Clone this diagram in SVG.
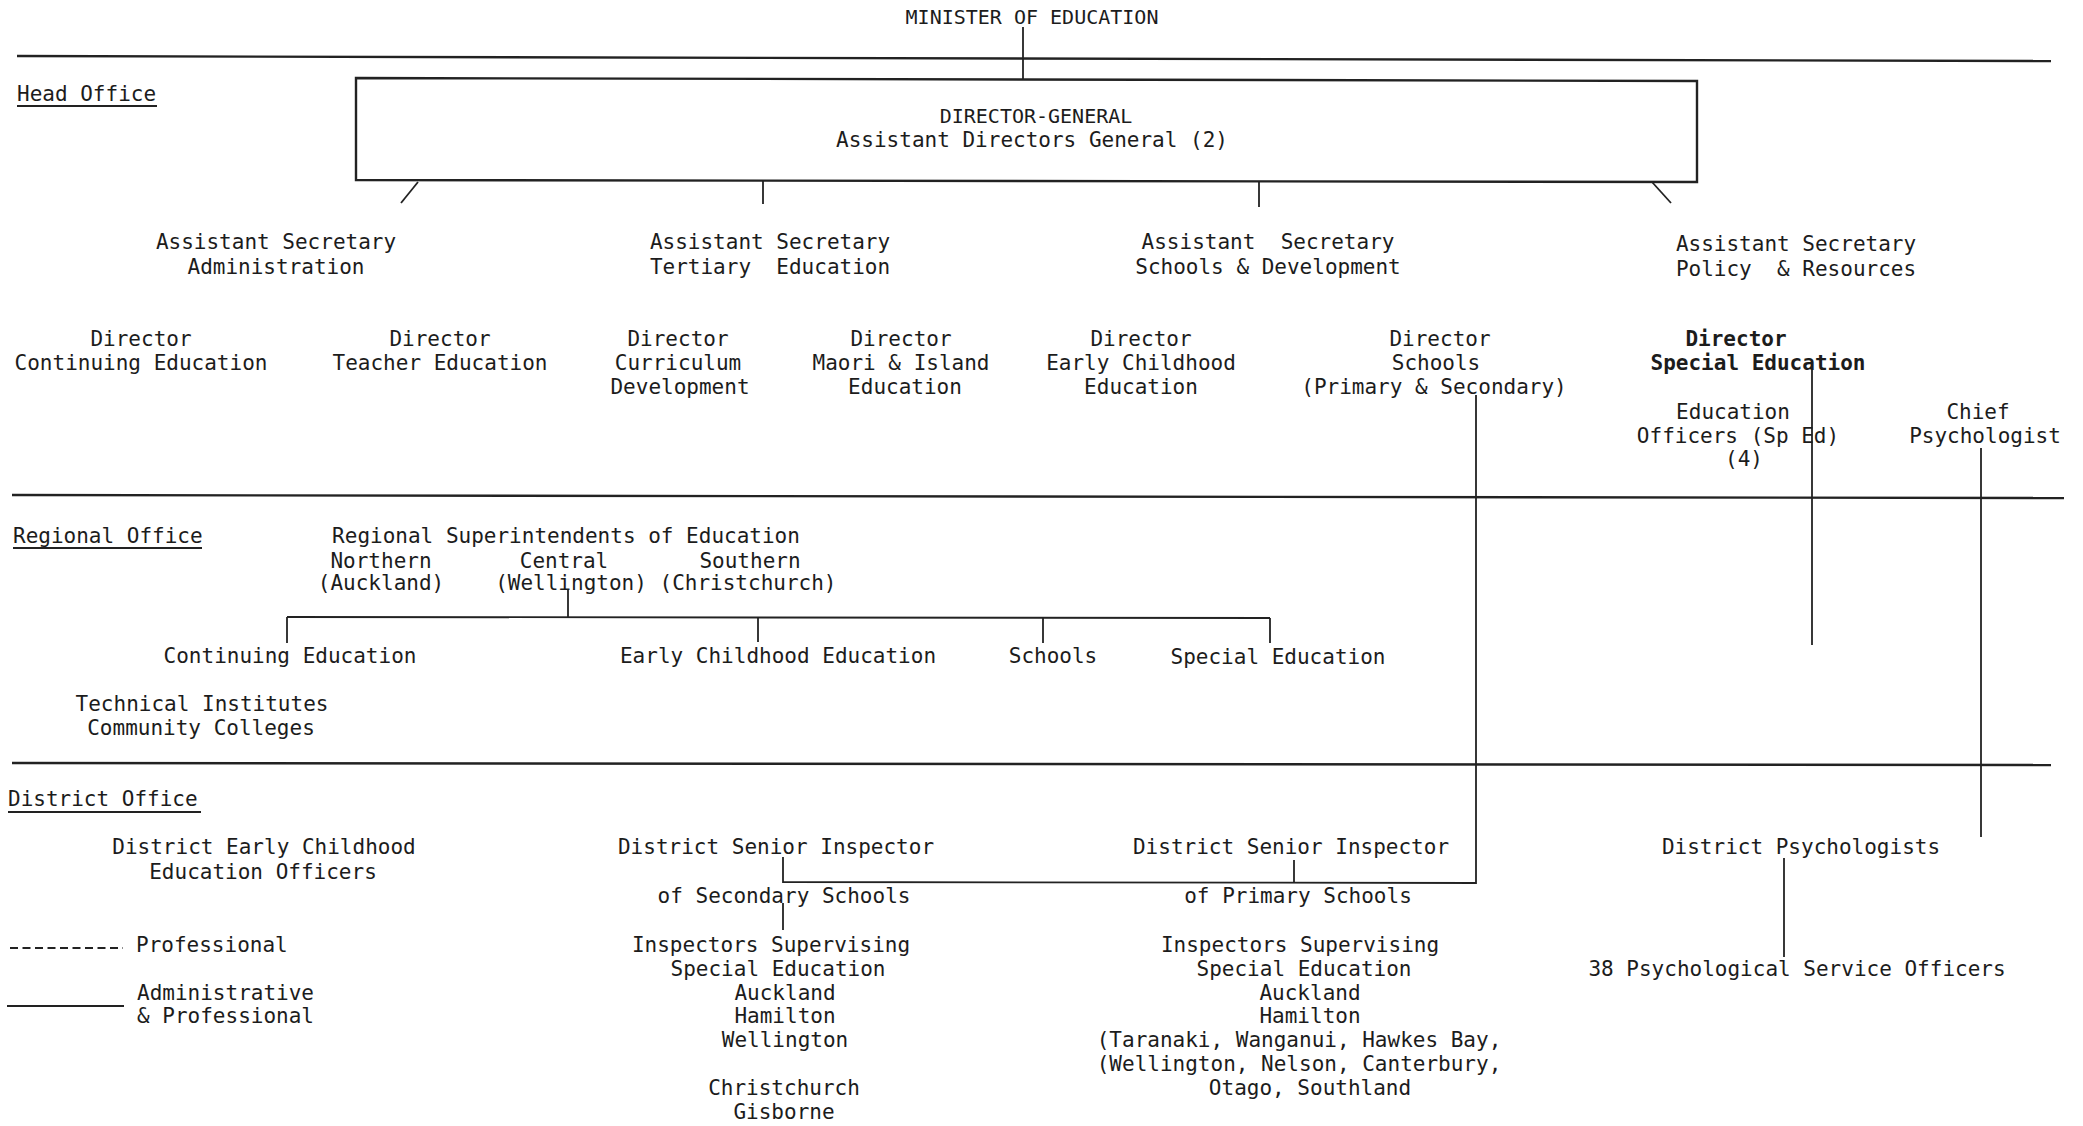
<svg xmlns="http://www.w3.org/2000/svg" width="2083" height="1126" viewBox="0 0 2083 1126">
<style>
text{font-family:"DejaVu Sans Mono","Liberation Mono",monospace;font-size:21px;fill:#1c1c1c;white-space:pre}
.c{text-anchor:middle}
.b{font-weight:bold}
.band{stroke:#222;stroke-width:2.4;fill:none}
.ln{stroke:#222;stroke-width:1.8;fill:none}
.ul{stroke:#222;stroke-width:2}
.dash{stroke:#222;stroke-width:2;stroke-dasharray:8 4.5}
</style>
<rect width="2083" height="1126" fill="#ffffff"/>
<g id="bands">
<line class="band" x1="17" y1="56" x2="2051" y2="61"/>
<line class="band" x1="12" y1="495" x2="2064" y2="498"/>
<line class="band" x1="12" y1="763" x2="2051" y2="765"/>
</g>
<g id="section-labels">
<text x="17" y="101">Head Office</text>
<line class="ul" x1="17" y1="106" x2="157" y2="106"/>
<text x="13" y="543">Regional Office</text>
<line class="ul" x1="13" y1="548" x2="202" y2="548"/>
<text x="8" y="806">District Office</text>
<line class="ul" x1="8" y1="812" x2="201" y2="812"/>
</g>
<g id="connectors">
<line class="ln" x1="1023" y1="27" x2="1023" y2="79"/>
<line class="ln" x1="418" y1="182" x2="401" y2="203"/>
<line class="ln" x1="763" y1="180" x2="763" y2="204"/>
<line class="ln" x1="1259" y1="181" x2="1259" y2="207"/>
<line class="ln" x1="1652" y1="182" x2="1671" y2="203"/>
<polyline class="ln" points="1476,395 1476,883 783,882 783,857"/>
<line class="ln" x1="1294" y1="860" x2="1294" y2="883"/>
<line class="ln" x1="783" y1="903" x2="783" y2="930"/>
<line class="ln" x1="1812" y1="370" x2="1812" y2="645"/>
<line class="ln" x1="1981" y1="448" x2="1981" y2="837"/>
<line class="ln" x1="1784" y1="858" x2="1784" y2="957"/>
<line class="ln" x1="568" y1="590" x2="568" y2="617"/>
<line class="ln" x1="287" y1="617" x2="1270" y2="618"/>
<line class="ln" x1="287" y1="617" x2="287" y2="643"/>
<line class="ln" x1="758" y1="617" x2="758" y2="642"/>
<line class="ln" x1="1043" y1="617" x2="1043" y2="643"/>
<line class="ln" x1="1270" y1="618" x2="1270" y2="643"/>
</g>
<g id="minister"><text class="c" x="1032" y="24" style="font-size:20px">MINISTER OF EDUCATION</text></g>
<g id="director-general">
<polygon class="band" points="356,78 1697,81 1697,182 356,180"/>
<text class="c" x="1036" y="123" style="font-size:20px">DIRECTOR-GENERAL</text>
<text class="c" x="1032" y="147">Assistant Directors General (2)</text>
</g>
<g id="as-admin"><text class="c" x="276" y="249">Assistant Secretary</text><text class="c" x="276" y="274">Administration</text></g>
<g id="as-tertiary"><text class="c" x="770" y="249">Assistant Secretary</text><text class="c" x="770" y="274">Tertiary  Education</text></g>
<g id="as-schools"><text class="c" x="1268" y="249">Assistant  Secretary</text><text class="c" x="1268" y="274">Schools &amp; Development</text></g>
<g id="as-policy"><text class="c" x="1796" y="251">Assistant Secretary</text><text class="c" x="1796" y="276">Policy  &amp; Resources</text></g>
<g id="dir-continuing"><text class="c" x="141" y="346">Director</text><text class="c" x="141" y="370">Continuing Education</text></g>
<g id="dir-teacher"><text class="c" x="440" y="346">Director</text><text class="c" x="440" y="370">Teacher Education</text></g>
<g id="dir-curriculum"><text class="c" x="678" y="346">Director</text><text class="c" x="678" y="370">Curriculum</text><text class="c" x="680" y="394">Development</text></g>
<g id="dir-maori"><text class="c" x="901" y="346">Director</text><text class="c" x="901" y="370">Maori &amp; Island</text><text class="c" x="905" y="394">Education</text></g>
<g id="dir-early"><text class="c" x="1141" y="346">Director</text><text class="c" x="1141" y="370">Early Childhood</text><text class="c" x="1141" y="394">Education</text></g>
<g id="dir-schools"><text class="c" x="1440" y="346">Director</text><text class="c" x="1436" y="370">Schools</text><text class="c" x="1434" y="394">(Primary &amp; Secondary)</text></g>
<g id="dir-special"><text class="c b" x="1736" y="346">Director</text><text class="c b" x="1758" y="370">Special Education</text></g>
<g id="edu-officers"><text class="c" x="1733" y="419">Education</text><text class="c" x="1738" y="443">Officers (Sp Ed)</text><text class="c" x="1744" y="466">(4)</text></g>
<g id="chief-psych"><text class="c" x="1978" y="419">Chief</text><text class="c" x="1985" y="443">Psychologist</text></g>
<g id="regional-supers">
<text class="c" x="566" y="543">Regional Superintendents of Education</text>
<text class="c" x="381" y="568">Northern</text><text class="c" x="564" y="568">Central</text><text class="c" x="750" y="568">Southern</text>
<text class="c" x="381" y="590">(Auckland)</text><text class="c" x="571" y="590">(Wellington)</text><text class="c" x="748" y="590">(Christchurch)</text>
</g>
<g id="reg-continuing"><text class="c" x="290" y="663">Continuing Education</text></g>
<g id="reg-early"><text class="c" x="778" y="663">Early Childhood Education</text></g>
<g id="reg-schools"><text class="c" x="1053" y="663">Schools</text></g>
<g id="reg-special"><text class="c" x="1278" y="664">Special Education</text></g>
<g id="tech-inst"><text class="c" x="202" y="711">Technical Institutes</text><text class="c" x="201" y="735">Community Colleges</text></g>
<g id="dist-early"><text class="c" x="264" y="854">District Early Childhood</text><text class="c" x="263" y="879">Education Officers</text></g>
<g id="dsi-secondary"><text class="c" x="776" y="854">District Senior Inspector</text><text class="c" x="784" y="903">of Secondary Schools</text></g>
<g id="isse-secondary">
<text class="c" x="771" y="952">Inspectors Supervising</text>
<text class="c" x="778" y="976">Special Education</text>
<text class="c" x="785" y="1000">Auckland</text>
<text class="c" x="785" y="1023">Hamilton</text>
<text class="c" x="785" y="1047">Wellington</text>
<text class="c" x="784" y="1095">Christchurch</text>
<text class="c" x="784" y="1119">Gisborne</text>
</g>
<g id="dsi-primary"><text class="c" x="1291" y="854">District Senior Inspector</text><text class="c" x="1298" y="903">of Primary Schools</text></g>
<g id="isse-primary">
<text class="c" x="1300" y="952">Inspectors Supervising</text>
<text class="c" x="1304" y="976">Special Education</text>
<text class="c" x="1310" y="1000">Auckland</text>
<text class="c" x="1310" y="1023">Hamilton</text>
<text class="c" x="1299" y="1047">(Taranaki, Wanganui, Hawkes Bay,</text>
<text class="c" x="1299" y="1071">(Wellington, Nelson, Canterbury,</text>
<text class="c" x="1310" y="1095">Otago, Southland</text>
</g>
<g id="dist-psych"><text class="c" x="1801" y="854">District Psychologists</text></g>
<g id="psych-officers"><text class="c" x="1797" y="976">38 Psychological Service Officers</text></g>
<g id="legend">
<line class="dash" x1="10" y1="948" x2="123" y2="948"/>
<text x="136" y="952">Professional</text>
<line class="ul" x1="7" y1="1006" x2="124" y2="1006"/>
<text x="137" y="1000">Administrative</text>
<text x="137" y="1023">&amp; Professional</text>
</g>
</svg>
